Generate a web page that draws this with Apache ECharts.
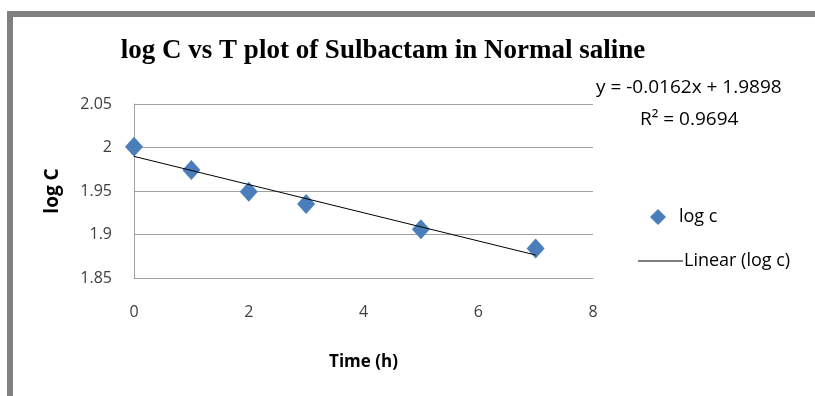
<!DOCTYPE html>
<html><head><meta charset="utf-8">
<script src="https://cdn.jsdelivr.net/npm/echarts@6/dist/echarts.min.js"></script>
<style>html,body{margin:0;padding:0;background:#fff}#c{width:815px;height:396px}</style>
</head><body><div id="c"></div>
<script>
const timeH = [0, 1, 2, 3, 5, 7];
const logC = [2.001, 1.974, 1.949, 1.935, 1.906, 1.884];
const slope = -0.0162, intercept = 1.9898;
const trendX = [0, 7];
const eqText = 'y = -0.0162x + 1.9898';
const r2Text = 'R² = 0.9694';

const chart = echarts.init(document.getElementById('c'));
const lab = {fontFamily: '"Open Sans", sans-serif', fontSize: 16, color: '#404040'};
chart.setOption({
  animation: false,
  title: {text: 'log C vs T plot of Sulbactam in Normal saline', left: 378, top: 33, textAlign: 'center',
    textStyle: {fontFamily: '"Liberation Serif", serif', fontWeight: 'bold', fontSize: 27, color: '#000'}},
  grid: {left: 134, right: 222, top: 104, height: 174},
  xAxis: {type: 'value', min: 0, max: 8, interval: 2, name: 'Time (h)', nameLocation: 'middle', nameGap: 76,
    nameTextStyle: {fontFamily: '"Open Sans", sans-serif', fontWeight: 'bold', fontSize: 17, color: '#000'},
    axisLine: {show: true, lineStyle: {color: '#a0a0a0'}}, axisTick: {show: false},
    axisLabel: Object.assign({margin: 26}, lab), splitLine: {show: false}},
  yAxis: {type: 'value', min: 1.85, max: 2.05, interval: 0.05, name: 'log C', nameLocation: 'middle', nameGap: 72,
    nameTextStyle: {fontFamily: '"Open Sans", sans-serif', fontWeight: 'bold', fontSize: 19, color: '#000'},
    axisLine: {show: true, lineStyle: {color: '#a0a0a0'}}, axisTick: {show: false},
    axisLabel: Object.assign({margin: 22, formatter: v => String(+v.toFixed(2))}, lab),
    splitLine: {show: true, lineStyle: {color: '#a0a0a0'}}},
  legend: [
    {data: [{name: 'log c', icon: 'diamond'}], left: 645, top: 203, itemWidth: 16, itemHeight: 16,
      textStyle: Object.assign({}, lab, {color: '#000', fontSize: 18, padding: [0, 0, 0, 8]})},
    {data: [{name: 'Linear (log c)', icon: 'path://M0,0L45,0L45,1L0,1Z'}], left: 633, top: 247, itemWidth: 45, itemHeight: 1,
      textStyle: Object.assign({}, lab, {color: '#000', fontSize: 18, padding: [0, 0, 0, -4]})}
  ],
  graphic: [
    {type: 'rect', shape: {x: 7, y: 11, width: 820, height: 6}, style: {fill: '#808080'}},
    {type: 'rect', shape: {x: 7, y: 11, width: 6, height: 400}, style: {fill: '#808080'}},
    {type: 'text', left: 596, top: 78, style: {text: eqText, font: '19px "Open Sans", sans-serif', fill: '#000'}},
    {type: 'text', left: 640, top: 110, style: {text: r2Text, font: '19px "Open Sans", sans-serif', fill: '#000'}}
  ],
  series: [
    {name: 'log c', type: 'scatter', symbol: 'diamond', symbolSize: [18, 20],
      itemStyle: {color: '#4a7ebb', opacity: 1}, data: timeH.map((t, i) => [t, logC[i]]), z: 3},
    {name: 'Linear (log c)', type: 'line', symbol: 'none', lineStyle: {color: '#000', width: 1},
      itemStyle: {color: '#000'}, data: trendX.map(x => [x, slope * x + intercept]), z: 4}
  ]
});
</script></body></html>
